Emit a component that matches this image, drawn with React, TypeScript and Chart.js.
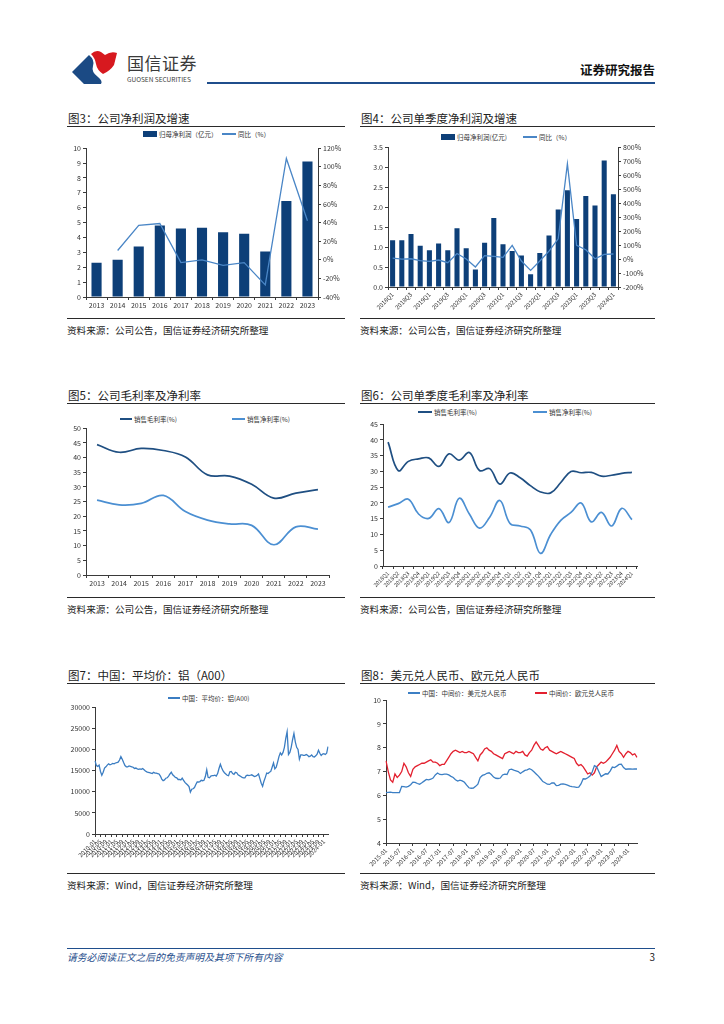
import React, { useEffect, useRef } from 'react';
import { Chart, registerables } from 'chart.js';

Chart.register(...registerables);

const FONT = '"Noto Sans CJK SC", "Noto Sans", sans-serif';
Chart.defaults.font.family = FONT;
Chart.defaults.color = '#333';

const AXIS = '#3a3a3a';
const NAVY = '#0d3f78';
const MID_BLUE = '#4a86c6';
const DARK_LINE = '#1f4f82';
const LIGHT_LINE = '#4b8fd2';
const RED = '#e3202f';
const HEADER_BLUE = '#1f4e8c';

// ---------- Fig 3: annual net profit ----------
const annualYears = ['2013', '2014', '2015', '2016', '2017', '2018', '2019', '2020', '2021', '2022', '2023'];
const annualNetProfit = [2.3, 2.5, 3.4, 4.8, 4.6, 4.65, 4.35, 4.25, 3.05, 6.45, 9.1];
const annualNetProfitYoY = [null, 10, 37, 39, -3, 0, -6, -3, -27, 109, 42];

// ---------- Fig 4: quarterly net profit ----------
const quarters = [
  '2018Q1', '2018Q2', '2018Q3', '2018Q4',
  '2019Q1', '2019Q2', '2019Q3', '2019Q4',
  '2020Q1', '2020Q2', '2020Q3', '2020Q4',
  '2021Q1', '2021Q2', '2021Q3', '2021Q4',
  '2022Q1', '2022Q2', '2022Q3', '2022Q4',
  '2023Q1', '2023Q2', '2023Q3', '2023Q4',
  '2024Q1',
];
const quarterNetProfit = [1.17, 1.17, 1.33, 1.03, 0.92, 1.09, 0.92, 1.47, 0.97, 0.44, 1.11, 1.73, 1.07, 0.9, 0.79, 0.32, 0.85, 1.29, 1.94, 2.42, 1.7, 2.28, 2.04, 3.17, 2.32];
const quarterNetProfitYoY = [7, 0, 2, -12, -17, -7, -26, 40, 0, -57, 24, 19, 12, 98, -14, -81, -14, 57, 145, 681, 98, 67, 2, 33, 36];

// ---------- Fig 5: annual margins ----------
const annualGrossMargin = [44.4, 41.8, 43.1, 42.4, 40.2, 34.1, 33.7, 30.9, 26.2, 27.9, 29.1];
const annualNetMargin = [25.5, 23.9, 24.4, 27.1, 21.6, 18.7, 17.4, 16.9, 10.3, 16.4, 15.6];

// ---------- Fig 6: quarterly margins ----------
const quarterGrossMargin = [39.3, 30.3, 33.2, 34.0, 34.3, 31.6, 35.6, 33.6, 36.0, 30.3, 30.9, 26.0, 29.5, 28.0, 25.5, 23.5, 23.2, 26.5, 30.0, 29.6, 29.7, 28.5, 28.8, 29.4, 29.7];
const quarterNetMargin = [18.7, 19.8, 21.2, 16.5, 15.1, 18.2, 13.8, 21.5, 16.5, 12.0, 15.5, 20.8, 13.5, 12.7, 11.5, 4.0, 10.0, 14.5, 17.0, 20.0, 14.0, 17.0, 12.7, 18.3, 14.7];

// ---------- Fig 7: aluminium A00 average price (monthly, 2010-01 .. 2024-04) ----------
const aluminiumStart = { year: 2010, month: 1 };
const aluminiumPrice = [
  17300, 16200, 16000, 16300, 14800, 13900, 14600, 15600, 15900, 16300, 16600, 16400,
  16500, 16700, 16600, 16800, 16900, 17000, 17500, 18300, 17700, 16900, 16200, 15900,
  15900, 16100, 16000, 15900, 15800, 15500, 15600, 15400, 15300, 15400, 15300, 15500,
  15200, 14900, 14700, 14600, 14500, 14400, 14300, 14600, 14400, 14400, 14300, 14200,
  13700, 13000, 12600, 12800, 13200, 13300, 13700, 14200, 14600, 14000, 13700, 13400,
  13300, 12900, 12900, 12800, 13200, 12700, 12200, 11900, 11600, 11200, 9900, 10600,
  10700, 11000, 11700, 12300, 12300, 12400, 12700, 12600, 12700, 13600, 15200, 13400,
  13300, 13700, 13800, 13800, 13900, 13700, 14300, 15500, 16500, 15600, 14900, 14500,
  14200, 13900, 13800, 14700, 14800, 14300, 14100, 14600, 14500, 14000, 13800, 13600,
  13400, 13300, 13300, 13800, 13900, 13800, 13900, 14000, 13800, 13600, 13700, 13900,
  14200, 13100, 12000, 11300, 12500, 13400, 14400, 14300, 14600, 14800, 15800, 16800,
  15400, 15800, 17000, 18300, 19200, 18700, 19300, 20500, 22600, 24200, 18800, 19300,
  20500, 22300, 23800, 21800, 20500, 20000, 17700, 18700, 18700, 18600, 18600, 18800,
  18600, 18300, 18400, 18700, 18300, 18200, 18500, 18900, 19800, 19100, 18600, 18900,
  19000, 18800, 19100, 20700,
];
const aluminiumTickEvery = 4;

// ---------- Fig 8: FX (monthly, 2015-01 .. 2024-05) ----------
const fxStart = { year: 2015, month: 1 };
const usdCny = [
  6.12, 6.13, 6.14, 6.12, 6.12, 6.12, 6.12, 6.38, 6.37, 6.35, 6.38, 6.45,
  6.56, 6.55, 6.50, 6.47, 6.53, 6.60, 6.67, 6.65, 6.68, 6.73, 6.86, 6.94,
  6.88, 6.87, 6.89, 6.89, 6.86, 6.80, 6.75, 6.66, 6.60, 6.64, 6.61, 6.55,
  6.43, 6.32, 6.30, 6.31, 6.38, 6.47, 6.75, 6.84, 6.87, 6.93, 6.95, 6.88,
  6.77, 6.72, 6.71, 6.73, 6.86, 6.89, 6.88, 7.08, 7.10, 7.06, 7.03, 7.00,
  6.92, 6.99, 7.05, 7.07, 7.12, 7.08, 6.99, 6.90, 6.81, 6.70, 6.58, 6.53,
  6.47, 6.46, 6.52, 6.52, 6.41, 6.42, 6.47, 6.48, 6.46, 6.43, 6.39, 6.37,
  6.36, 6.34, 6.35, 6.48, 6.70, 6.69, 6.74, 6.81, 6.98, 7.25, 7.20, 6.99,
  6.79, 6.85, 6.91, 6.90, 7.02, 7.19, 7.17, 7.23, 7.30, 7.31, 7.17, 7.10,
  7.11, 7.11, 7.10, 7.11, 7.11,
];
const eurCny = [
  7.45, 7.00, 6.65, 6.55, 6.90, 6.75, 6.85, 7.00, 7.35, 7.20, 6.95, 6.80,
  7.10, 7.20, 7.25, 7.30, 7.35, 7.35, 7.40, 7.45, 7.50, 7.40, 7.40, 7.35,
  7.25, 7.30, 7.30, 7.45, 7.60, 7.75, 7.85, 7.90, 7.85, 7.80, 7.85, 7.80,
  7.80, 7.85, 7.80, 7.75, 7.60, 7.45, 7.70, 7.80, 7.95, 8.00, 7.90, 7.85,
  7.75, 7.70, 7.65, 7.60, 7.55, 7.75, 7.80, 7.85, 7.80, 7.75, 7.85, 7.80,
  7.80, 7.85, 7.70, 7.65, 7.80, 7.90, 8.10, 8.25, 8.10, 7.95, 7.90, 8.00,
  8.05, 7.90, 7.85, 7.80, 7.75, 7.80, 7.85, 7.80, 7.75, 7.70, 7.65, 7.60,
  7.55, 7.35, 7.25, 7.30, 7.20, 7.05, 6.90, 6.95, 6.85, 6.95, 7.20, 7.30,
  7.40, 7.35, 7.40, 7.50, 7.60, 7.75, 7.90, 8.10, 7.85, 7.75, 7.60, 7.75,
  7.85, 7.80, 7.70, 7.75, 7.60,
];
const fxTickEvery = 6;

function monthLabels(start: { year: number; month: number }, count: number): string[] {
  const out: string[] = [];
  for (let i = 0; i < count; i++) {
    const m = start.month - 1 + i;
    const y = start.year + Math.floor(m / 12);
    out.push(`${y}-${String((m % 12) + 1).padStart(2, '0')}`);
  }
  return out;
}

const aluminiumMonths = monthLabels(aluminiumStart, aluminiumPrice.length);
const fxMonths = monthLabels(fxStart, usdCny.length);

// ---------- helpers ----------
const tickFont = (size = 7) => ({ family: FONT, size });

function yScale(o: any) {
  const ticks: any = { stepSize: o.step, font: tickFont(7), color: '#333', padding: 2 };
  ticks.callback = o.callback || ((v: any) => String(v));
  return {
    type: 'linear',
    position: o.position || 'left',
    min: o.min,
    max: o.max,
    ticks,
    grid: { display: true, drawOnChartArea: false, drawTicks: true, tickLength: 3, color: AXIS },
    border: { display: true, color: AXIS, width: 1 },
    afterFit: (s: any) => {
      s.width = o.width;
    },
  };
}

function xScale(o: any) {
  const labels: string[] = o.labels;
  const show = o.show || (() => true);
  return {
    type: 'category',
    offset: o.offset,
    ticks: {
      autoSkip: false,
      font: tickFont(o.fontSize || 7),
      color: '#333',
      padding: 1,
      minRotation: o.rotation || 0,
      maxRotation: o.rotation || 0,
      callback: (_v: any, i: number) => (show(i) ? labels[i] : o.hideWith),
    },
    grid: { display: true, drawOnChartArea: false, drawTicks: true, tickLength: 3, color: AXIS, offset: o.offset },
    border: { display: true, color: AXIS, width: 1 },
    afterFit: (s: any) => {
      s.height = o.height;
    },
  };
}

function baseOptions(padTop: number, padRight: number) {
  return {
    responsive: false,
    animation: false,
    layout: { padding: { top: padTop, right: padRight, left: 0, bottom: 0 } },
    plugins: { legend: { display: false }, tooltip: { enabled: false } },
  };
}

function ChartCanvas({ left, top, width, height, make }: any) {
  const ref = useRef<HTMLCanvasElement>(null);
  useEffect(() => {
    const chart = new Chart(ref.current as HTMLCanvasElement, make());
    return () => chart.destroy();
  }, []);
  return (
    <canvas
      ref={ref}
      width={width}
      height={height}
      style={{ position: 'absolute', left, top, width, height, display: 'block' }}
    />
  );
}

// ---------- chart configs ----------
const fig3 = (): any => ({
  type: 'bar',
  data: {
    labels: annualYears,
    datasets: [
      {
        type: 'line',
        label: '同比（%）',
        data: annualNetProfitYoY,
        yAxisID: 'y1',
        borderColor: MID_BLUE,
        borderWidth: 1.3,
        pointRadius: 0,
        tension: 0,
        order: 0,
      },
      {
        type: 'bar',
        label: '归母净利润（亿元）',
        data: annualNetProfit,
        yAxisID: 'y',
        backgroundColor: NAVY,
        categoryPercentage: 1,
        barPercentage: 0.48,
        order: 1,
      },
    ],
  },
  options: {
    ...baseOptions(6, 0),
    scales: {
      x: xScale({ labels: annualYears, offset: true, height: 21, fontSize: 7 }),
      y: yScale({ min: 0, max: 10, step: 1, width: 19 }),
      y1: yScale({ position: 'right', min: -40, max: 120, step: 20, width: 32, callback: (v: any) => `${v}%` }),
    },
  },
});

const fig4 = (): any => ({
  type: 'bar',
  data: {
    labels: quarters,
    datasets: [
      {
        type: 'line',
        label: '同比（%）',
        data: quarterNetProfitYoY,
        yAxisID: 'y1',
        borderColor: MID_BLUE,
        borderWidth: 1.3,
        pointRadius: 0,
        tension: 0,
        order: 0,
      },
      {
        type: 'bar',
        label: '归母净利润(亿元)',
        data: quarterNetProfit,
        yAxisID: 'y',
        backgroundColor: NAVY,
        categoryPercentage: 1,
        barPercentage: 0.55,
        order: 1,
      },
    ],
  },
  options: {
    ...baseOptions(6, 0),
    scales: {
      x: xScale({
        labels: quarters,
        offset: true,
        height: 24,
        fontSize: 6,
        rotation: 45,
        show: (i: number) => i % 2 === 0,
        hideWith: '',
      }),
      y: yScale({ min: 0, max: 3.5, step: 0.5, width: 28, callback: (v: any) => Number(v).toFixed(1) }),
      y1: yScale({ position: 'right', min: -200, max: 800, step: 100, width: 37, callback: (v: any) => `${v}%` }),
    },
  },
});

const fig5 = (): any => ({
  type: 'line',
  data: {
    labels: annualYears,
    datasets: [
      { label: '销售毛利率(%)', data: annualGrossMargin, borderColor: DARK_LINE, borderWidth: 1.7, pointRadius: 0, tension: 0.4 },
      { label: '销售净利率(%)', data: annualNetMargin, borderColor: LIGHT_LINE, borderWidth: 1.7, pointRadius: 0, tension: 0.4 },
    ],
  },
  options: {
    ...baseOptions(6, 8),
    scales: {
      x: xScale({ labels: annualYears, offset: true, height: 14, fontSize: 7 }),
      y: yScale({ min: 0, max: 50, step: 5, width: 19 }),
    },
  },
});

const fig6 = (): any => ({
  type: 'line',
  data: {
    labels: quarters,
    datasets: [
      { label: '销售毛利率(%)', data: quarterGrossMargin, borderColor: DARK_LINE, borderWidth: 1.7, pointRadius: 0, tension: 0.4 },
      { label: '销售净利率(%)', data: quarterNetMargin, borderColor: LIGHT_LINE, borderWidth: 1.7, pointRadius: 0, tension: 0.4 },
    ],
  },
  options: {
    ...baseOptions(6, 8),
    scales: {
      x: xScale({ labels: quarters, offset: true, height: 26, fontSize: 5.5, rotation: 45 }),
      y: yScale({ min: 0, max: 45, step: 5, width: 23 }),
    },
  },
});

const fig7 = (): any => ({
  type: 'line',
  data: {
    labels: aluminiumMonths,
    datasets: [
      { label: '中国：平均价：铝(A00)', data: aluminiumPrice, borderColor: '#3b7dc2', borderWidth: 1.3, pointRadius: 0, tension: 0 },
    ],
  },
  options: {
    ...baseOptions(6, 10),
    scales: {
      x: xScale({
        labels: aluminiumMonths,
        offset: false,
        height: 32,
        fontSize: 6,
        rotation: 45,
        show: (i: number) => i % aluminiumTickEvery === 0,
        hideWith: null,
      }),
      y: yScale({ min: 0, max: 30000, step: 5000, width: 28 }),
    },
  },
});

const fig8 = (): any => ({
  type: 'line',
  data: {
    labels: fxMonths,
    datasets: [
      { label: '中国：中间价：美元兑人民币', data: usdCny, borderColor: '#3c7fc4', borderWidth: 1.3, pointRadius: 0, tension: 0 },
      { label: '中间价：欧元兑人民币', data: eurCny, borderColor: RED, borderWidth: 1.3, pointRadius: 0, tension: 0 },
    ],
  },
  options: {
    ...baseOptions(6, 8),
    scales: {
      x: xScale({
        labels: fxMonths,
        offset: false,
        height: 28,
        fontSize: 6,
        rotation: 45,
        show: (i: number) => i % fxTickEvery === 0,
        hideWith: null,
      }),
      y: yScale({ min: 4, max: 10, step: 1, width: 25 }),
    },
  },
});

// ---------- page pieces ----------
const abs = (x: number, y: number, extra: any = {}) => ({ position: 'absolute' as const, left: x, top: y, ...extra });

function Title({ x, y, w, text }: any) {
  return (
    <>
      <div style={abs(x + 1, y - 7, { fontSize: 11.5, lineHeight: '14px', color: '#222', whiteSpace: 'nowrap' })}>{text}</div>
      <div style={abs(x, y + 8, { width: w, height: 1.2, background: '#2a2a2a' })} />
    </>
  );
}

function Source({ x, y, w, text }: any) {
  return (
    <>
      <div style={abs(x, y - 12, { width: w, height: 1, background: '#2a2a2a' })} />
      <div style={abs(x, y - 6, { fontSize: 9.6, lineHeight: '12px', color: '#222', whiteSpace: 'nowrap' })}>{text}</div>
    </>
  );
}

function LegendItem({ x, y, kind, color, text, w = 14 }: any) {
  const h = kind === 'bar' ? 6 : 1.6;
  return (
    <>
      <div style={abs(x, y - h / 2, { width: w, height: h, background: color })} />
      <div style={abs(x + w + 2, y - 4.5, { fontSize: 6.5, lineHeight: '9px', color: '#333', whiteSpace: 'nowrap' })}>{text}</div>
    </>
  );
}

function Logo() {
  return (
    <svg style={abs(70, 49)} width={50} height={36} viewBox="0 0 50 36">
      <path d="M2,23 L19,6 Q25,11 23,17 Q21,23 28,28 Q33,32 31,35 L14,35 Z" fill="#1b4a84" />
      <path d="M21,5 Q26,0 31,3 L35,6 Q41,2 47,4 L44,16 Q40,22 33,25 Q27,21 26,15 Q25,9 21,5 Z" fill="#d7191f" />
    </svg>
  );
}

export default function App() {
  return (
    <div style={{ position: 'absolute', left: 0, top: 0, width: 724, height: 1024, background: '#fff', fontFamily: FONT, overflow: 'hidden' }}>
      {/* header */}
      <Logo />
      <div style={abs(127, 53, { fontSize: 17, lineHeight: '20px', color: '#3a3a3a', letterSpacing: 0.5, whiteSpace: 'nowrap' })}>国信证券</div>
      <div style={abs(127, 75, { fontSize: 6.5, lineHeight: '8px', color: '#3a3a3a', whiteSpace: 'nowrap' })}>GUOSEN SECURITIES</div>
      <div style={abs(520, 62, { width: 135, textAlign: 'right', fontSize: 12.5, fontWeight: 700, lineHeight: '16px', color: '#111', whiteSpace: 'nowrap' })}>证券研究报告</div>
      <div style={abs(207, 82, { width: 448, height: 2, background: HEADER_BLUE })} />

      {/* row 1 */}
      <Title x={67} y={118} w={278} text="图3：公司净利润及增速" />
      <Title x={360} y={118} w={295} text="图4：公司单季度净利润及增速" />
      <LegendItem x={143} y={134} kind="bar" color={NAVY} text="归母净利润（亿元）" />
      <LegendItem x={222} y={134} kind="line" color={MID_BLUE} text="同比（%）" />
      <LegendItem x={441} y={137} kind="bar" color={NAVY} text="归母净利润(亿元)" />
      <LegendItem x={523} y={137} kind="line" color={MID_BLUE} text="同比（%）" />
      <ChartCanvas left={67} top={142} width={283} height={176} make={fig3} />
      <ChartCanvas left={360} top={141} width={295} height={170} make={fig4} />
      <Source x={67} y={330} w={278} text="资料来源：公司公告，国信证券经济研究所整理" />
      <Source x={360} y={330} w={295} text="资料来源：公司公告，国信证券经济研究所整理" />

      {/* row 2 */}
      <Title x={67} y={395} w={278} text="图5：公司毛利率及净利率" />
      <Title x={360} y={395} w={295} text="图6：公司单季度毛利率及净利率" />
      <LegendItem x={120} y={419} kind="line" color={DARK_LINE} text="销售毛利率(%)" w={12} />
      <LegendItem x={232} y={419} kind="line" color={LIGHT_LINE} text="销售净利率(%)" w={13} />
      <LegendItem x={418} y={412} kind="line" color={DARK_LINE} text="销售毛利率(%)" w={14} />
      <LegendItem x={533} y={412} kind="line" color={LIGHT_LINE} text="销售净利率(%)" w={14} />
      <ChartCanvas left={67} top={422} width={270} height={167} make={fig5} />
      <ChartCanvas left={360} top={418} width={285} height={174} make={fig6} />
      <Source x={67} y={609} w={278} text="资料来源：公司公告，国信证券经济研究所整理" />
      <Source x={360} y={609} w={295} text="资料来源：公司公告，国信证券经济研究所整理" />

      {/* row 3 */}
      <Title x={67} y={675} w={278} text="图7：中国：平均价：铝（A00）" />
      <Title x={360} y={675} w={295} text="图8：美元兑人民币、欧元兑人民币" />
      <LegendItem x={168} y={698} kind="line" color="#3b7dc2" text="中国：平均价：铝(A00)" w={12} />
      <LegendItem x={408} y={693} kind="line" color="#3c7fc4" text="中国：中间价：美元兑人民币" w={12} />
      <LegendItem x={535} y={693} kind="line" color={RED} text="中间价：欧元兑人民币" w={12} />
      <ChartCanvas left={67} top={701} width={271} height={165} make={fig7} />
      <ChartCanvas left={361} top={694} width={284} height={177} make={fig8} />
      <Source x={67} y={885} w={278} text="资料来源：Wind，国信证券经济研究所整理" />
      <Source x={360} y={885} w={295} text="资料来源：Wind，国信证券经济研究所整理" />

      {/* footer */}
      <div style={abs(67, 948, { width: 588, height: 1, background: HEADER_BLUE })} />
      <div style={abs(67, 951, { fontSize: 9.8, lineHeight: '12px', fontStyle: 'italic', color: '#1f4e8c', whiteSpace: 'nowrap' })}>请务必阅读正文之后的免责声明及其项下所有内容</div>
      <div style={abs(640, 951, { width: 15, textAlign: 'right', fontSize: 10, lineHeight: '12px', color: '#222' })}>3</div>
    </div>
  );
}
